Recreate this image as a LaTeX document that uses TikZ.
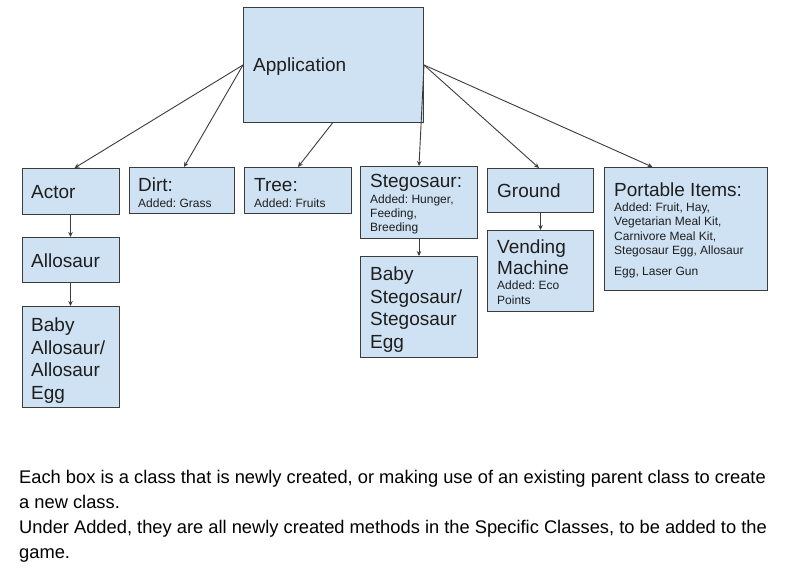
\documentclass[tikz,border=0pt]{standalone}
\usepackage{fontspec}
\setmainfont{Liberation Sans}
\usetikzlibrary{arrows.meta}
\frenchspacing
\definecolor{boxfill}{HTML}{CFE2F3}
\definecolor{boxline}{HTML}{3C3C3C}
\definecolor{txt}{HTML}{1E1E1E}
\begin{document}
\frenchspacing
\begin{tikzpicture}[x=1pt,y=-1pt,
  box/.style={draw=boxline, fill=boxfill, line width=1pt, anchor=north west, inner sep=0pt},
  big/.style={anchor=base west, inner sep=0pt, text=txt, font=\fontsize{19}{22}\selectfont},
  small/.style={anchor=base west, inner sep=0pt, text=txt, font=\fontsize{12}{14}\selectfont},
  arr/.style={draw=boxline, line width=0.9pt, -{Stealth[length=5pt,width=4.5pt]}},
  note/.style={anchor=base west, inner sep=0pt, text=black, font=\fontsize{18.3}{25}\selectfont}]
\useasboundingbox[fill=white] (0,0) rectangle (788,572);

% boxes
\node[box, minimum width=180pt, minimum height=115pt] (app) at (243,7) {};
\node[box, minimum width=97pt, minimum height=46pt] (actor) at (22,168) {};
\node[box, minimum width=97pt, minimum height=45pt] (allo) at (22,237) {};
\node[box, minimum width=97pt, minimum height=101pt] (babyallo) at (22,306) {};
\node[box, minimum width=105pt, minimum height=46pt] (dirt) at (129,167) {};
\node[box, minimum width=107pt, minimum height=46pt] (tree) at (244,167) {};
\node[box, minimum width=117pt, minimum height=72pt] (steg) at (360,166) {};
\node[box, minimum width=117pt, minimum height=101pt] (babysteg) at (360,256) {};
\node[box, minimum width=106pt, minimum height=44pt] (ground) at (487,168) {};
\node[box, minimum width=106pt, minimum height=81pt] (vend) at (487,230) {};
\node[box, minimum width=163pt, minimum height=123pt] (port) at (604,167) {};

% texts
\node[big] (tapp) at (253,72) {Application};
\node[big] (tactor) at (31,199) {Actor};
\node[big] (tallo) at (31,268) {Allosaur};
\node[big] (tba1) at (31,331.7) {Baby};
\node[big] (tba2) at (31,354.2) {Allosaur/};
\node[big] (tba3) at (31,376.7) {Allosaur};
\node[big] (tba4) at (31,399.2) {Egg};
\node[big] (tdirt) at (138,191.5) {Dirt:};
\node[small] (tdirta) at (138,207.7) {Added: Grass};
\node[big] (ttree) at (254,191.5) {Tree:};
\node[small] (ttreea) at (254,207.7) {Added: Fruits};
\node[big] (tsteg) at (370,187.7) {Stegosaur:};
\node[small] (tsteg1) at (370,203.3) {Added: Hunger,};
\node[small] (tsteg2) at (370,217.5) {Feeding,};
\node[small] (tsteg3) at (370,231.7) {Breeding};
\node[big] (tbs1) at (370,280.7) {Baby};
\node[big] (tbs2) at (370,303.3) {Stegosaur/};
\node[big] (tbs3) at (370,326) {Stegosaur};
\node[big] (tbs4) at (370,348.7) {Egg};
\node[big] (tground) at (497,197.7) {Ground};
\node[big] (tv1) at (497,253.3) {Vending};
\node[big] (tv2) at (497,275) {Machine};
\node[small] (tv3) at (497,290) {Added: Eco};
\node[small] (tv4) at (497,305) {Points};
\node[big] (tport) at (614,196.7) {Portable Items:};
\node[small] (tp1) at (614,211.7) {Added: Fruit, Hay,};
\node[small] (tp2) at (614,226) {Vegetarian Meal Kit,};
\node[small] (tp3) at (614,240.7) {Carnivore Meal Kit,};
\node[small] (tp4) at (614,254.3) {Stegosaur Egg, Allosaur};
\node[small] (tp5) at (614,276) {Egg, Laser Gun};

% connectors
\draw[arr] (app.west) -- ([xshift=3.5pt]actor.north);
\draw[arr] (app.west) -- ([xshift=2pt]dirt.north);
\draw[arr] ([xshift=-1pt]app.south) -- (tree.north);
\draw[arr] (app.east) -- (steg.north);
\draw[arr] (app.east) -- ([xshift=-1.5pt]ground.north);
\draw[arr] (app.east) -- ([xshift=-33.5pt]port.north);
\draw[arr] ([xshift=-0.5pt]actor.south) -- ([xshift=-0.5pt]allo.north);
\draw[arr] ([xshift=-0.5pt]allo.south) -- ([xshift=-0.5pt]babyallo.north);
\draw[arr] (steg.south) -- (babysteg.north);
\draw[arr] (ground.south) -- (vend.north);

% note
\node[note] (n1) at (19,483) {Each box is a class that is newly created, or making use of an existing parent class to create};
\node[note] (n2) at (19,508) {a new class.};
\node[note] (n3) at (19,533) {Under Added, they are all newly created methods in the Specific Classes, to be added to the};
\node[note] (n4) at (19,558) {game.};
\end{tikzpicture}
\end{document}
